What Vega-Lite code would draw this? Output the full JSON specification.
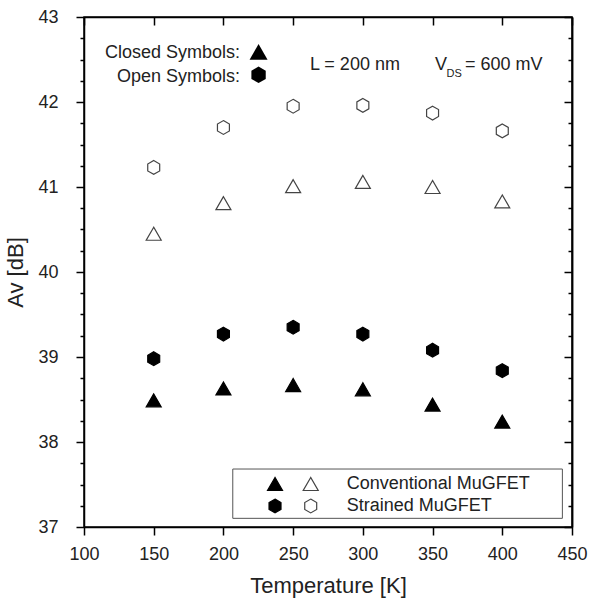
{
  "$schema": "https://vega.github.io/schema/vega-lite/v6.json",
  "width": 488,
  "height": 510,
  "autosize": {"type": "none"},
  "padding": {"left": 84, "top": 17, "right": 17, "bottom": 73},
  "config": {
    "view": {"stroke": "black", "strokeWidth": 1.5},
    "font": "Liberation Sans",
    "axis": {
      "grid": false,
      "labelFont": "Liberation Sans",
      "titleFont": "Liberation Sans",
      "labelColor": "#222",
      "titleColor": "#222",
      "titleFontWeight": "normal",
      "domainColor": "black",
      "domainWidth": 1.5,
      "tickColor": "black",
      "tickWidth": 1.5,
      "labelFontSize": 18,
      "titleFontSize": 22,
      "labelFlush": false,
      "labelOverlap": false
    }
  },
  "datasets": {
    "points": [
      {"series": "Conventional", "style": "closed", "T": 150, "Av": 38.49},
      {"series": "Conventional", "style": "closed", "T": 200, "Av": 38.63},
      {"series": "Conventional", "style": "closed", "T": 250, "Av": 38.67},
      {"series": "Conventional", "style": "closed", "T": 300, "Av": 38.62},
      {"series": "Conventional", "style": "closed", "T": 350, "Av": 38.44},
      {"series": "Conventional", "style": "closed", "T": 400, "Av": 38.24},
      {"series": "Strained", "style": "closed", "T": 150, "Av": 38.98},
      {"series": "Strained", "style": "closed", "T": 200, "Av": 39.27},
      {"series": "Strained", "style": "closed", "T": 250, "Av": 39.35},
      {"series": "Strained", "style": "closed", "T": 300, "Av": 39.27},
      {"series": "Strained", "style": "closed", "T": 350, "Av": 39.08},
      {"series": "Strained", "style": "closed", "T": 400, "Av": 38.84},
      {"series": "Conventional", "style": "open", "T": 150, "Av": 40.45},
      {"series": "Conventional", "style": "open", "T": 200, "Av": 40.81},
      {"series": "Conventional", "style": "open", "T": 250, "Av": 41.01},
      {"series": "Conventional", "style": "open", "T": 300, "Av": 41.06},
      {"series": "Conventional", "style": "open", "T": 350, "Av": 41.0},
      {"series": "Conventional", "style": "open", "T": 400, "Av": 40.83},
      {"series": "Strained", "style": "open", "T": 150, "Av": 41.23},
      {"series": "Strained", "style": "open", "T": 200, "Av": 41.7},
      {"series": "Strained", "style": "open", "T": 250, "Av": 41.95},
      {"series": "Strained", "style": "open", "T": 300, "Av": 41.96},
      {"series": "Strained", "style": "open", "T": 350, "Av": 41.87},
      {"series": "Strained", "style": "open", "T": 400, "Av": 41.66}
    ],
    "legendSymbols": [
      {"series": "Conventional", "style": "closed", "T": 237.0, "Av": 37.506},
      {"series": "Conventional", "style": "open", "T": 262.6, "Av": 37.506},
      {"series": "Strained", "style": "closed", "T": 237.0, "Av": 37.247},
      {"series": "Strained", "style": "open", "T": 262.6, "Av": 37.247}
    ],
    "legendBox": [
      {"T": 206.7, "T2": 443.1, "Av": 37.682, "Av2": 37.102}
    ],
    "rightTexts": [
      {"T": 211.9, "Av": 42.58, "label": "Closed Symbols:"},
      {"T": 211.9, "Av": 42.3, "label": "Open Symbols:"}
    ],
    "leftTexts": [
      {"T": 262.1, "Av": 42.435, "label": "L = 200 nm"},
      {"T": 351.8, "Av": 42.435, "label": "V"},
      {"T": 373.3, "Av": 42.435, "label": "= 600 mV"},
      {"T": 288.4, "Av": 37.506, "label": "Conventional MuGFET"},
      {"T": 288.4, "Av": 37.247, "label": "Strained MuGFET"}
    ],
    "subTexts": [
      {"T": 360.0, "Av": 42.33, "label": "DS"}
    ],
    "splitSymbol": [
      {"kind": "closed", "T": 225.2, "Av": 42.59},
      {"kind": "open", "T": 225.2, "Av": 42.32}
    ]
  },
  "layer": [
    {
      "data": {"name": "points"},
      "mark": {"type": "point", "filled": true, "size": 225, "strokeWidth": 1.2, "opacity": 1},
      "encoding": {
        "x": {
          "field": "T", "type": "quantitative",
          "scale": {"domain": [100, 450], "nice": false, "zero": false},
          "axis": {
            "orient": "bottom",
            "values": [100, 150, 200, 250, 300, 350, 400, 450],
            "ticks": false,
            "labelPadding": 18,
            "title": "Temperature [K]",
            "titlePadding": 12
          }
        },
        "y": {
          "field": "Av", "type": "quantitative",
          "scale": {"domain": [37, 43], "nice": false, "zero": false},
          "axis": {
            "orient": "left",
            "values": [37, 38, 39, 40, 41, 42, 43],
            "format": "d",
            "ticks": false,
            "labelPadding": 26,
            "title": "Av [dB]",
            "titlePadding": 10
          }
        },
        "shape": {
          "field": "series", "type": "nominal",
          "scale": {"domain": ["Conventional", "Strained"], "range": ["triangle-up", "M0,-0.92L0.797,-0.46L0.797,0.46L0,0.92L-0.797,0.46L-0.797,-0.46Z"]},
          "legend": null
        },
        "fill": {
          "field": "style", "type": "nominal",
          "scale": {"domain": ["closed", "open"], "range": ["black", "white"]},
          "legend": null
        },
        "stroke": {
          "field": "style", "type": "nominal",
          "scale": {"domain": ["closed", "open"], "range": ["black", "#444444"]},
          "legend": null
        }
      }
    },
    {
      "data": {"name": "legendBox"},
      "mark": {"type": "rect", "fill": null, "fillOpacity": 0, "stroke": "#555555", "strokeWidth": 1},
      "encoding": {
        "x": {
          "field": "T", "type": "quantitative",
          "scale": {"domain": [100, 450], "nice": false, "zero": false},
          "axis": {
            "orient": "top",
            "values": [100, 150, 200, 250, 300, 350, 400, 450],
            "tickSize": -8,
            "labels": false,
            "title": null
          }
        },
        "x2": {"field": "T2"},
        "y": {
          "field": "Av", "type": "quantitative",
          "scale": {"domain": [37, 43], "nice": false, "zero": false},
          "axis": {
            "orient": "right",
            "values": [37, 38, 39, 40, 41, 42, 43],
            "tickSize": -8,
            "labels": false,
            "title": null
          }
        },
        "y2": {"field": "Av2"}
      }
    },
    {
      "data": {"name": "legendSymbols"},
      "mark": {"type": "point", "filled": true, "size": 225, "strokeWidth": 1.2, "opacity": 1},
      "encoding": {
        "x": {
          "field": "T", "type": "quantitative",
          "scale": {"domain": [100, 450], "nice": false, "zero": false},
          "axis": {
            "orient": "bottom",
            "values": [100, 150, 200, 250, 300, 350, 400, 450],
            "tickSize": -8,
            "offset": 8,
            "domain": false,
            "labels": false,
            "title": null
          }
        },
        "y": {
          "field": "Av", "type": "quantitative",
          "scale": {"domain": [37, 43], "nice": false, "zero": false},
          "axis": {
            "orient": "left",
            "values": [37, 38, 39, 40, 41, 42, 43],
            "tickSize": -8,
            "offset": 8,
            "domain": false,
            "labels": false,
            "title": null
          }
        },
        "shape": {
          "field": "series", "type": "nominal",
          "scale": {"domain": ["Conventional", "Strained"], "range": ["triangle-up", "M0,-0.92L0.797,-0.46L0.797,0.46L0,0.92L-0.797,0.46L-0.797,-0.46Z"]},
          "legend": null
        },
        "fill": {
          "field": "style", "type": "nominal",
          "scale": {"domain": ["closed", "open"], "range": ["black", "white"]},
          "legend": null
        },
        "stroke": {
          "field": "style", "type": "nominal",
          "scale": {"domain": ["closed", "open"], "range": ["black", "#444444"]},
          "legend": null
        }
      }
    },
    {
      "data": {"name": "splitSymbol"},
      "mark": {"type": "point", "filled": true, "size": 324, "color": "black", "opacity": 1},
      "encoding": {
        "x": {"field": "T", "type": "quantitative", "scale": {"domain": [100, 450], "nice": false, "zero": false}, "axis": null},
        "y": {
          "field": "Av", "type": "quantitative",
          "scale": {"domain": [37, 43], "nice": false, "zero": false},
          "axis": {
            "orient": "right",
            "values": [37.25, 37.5, 37.75, 38.25, 38.5, 38.75, 39.25, 39.5, 39.75, 40.25, 40.5, 40.75, 41.25, 41.5, 41.75, 42.25, 42.5, 42.75],
            "tickSize": -4,
            "labels": false,
            "title": null
          }
        },
        "shape": {
          "field": "kind", "type": "nominal",
          "scale": {"domain": ["closed", "open"], "range": ["M-0.28,-0.74L0.28,-0.74L1,0.1L1,0.74L-1,0.74L-1,0.1Z", "M-1,-0.74L1,-0.74L1,-0.1L0.28,0.74L-0.28,0.74L-1,-0.1Z"]},
          "legend": null
        }
      }
    },
    {
      "data": {"name": "rightTexts"},
      "mark": {"type": "text", "align": "right", "baseline": "middle", "fontSize": 18, "font": "Liberation Sans", "color": "#222"},
      "encoding": {
        "x": {"field": "T", "type": "quantitative", "scale": {"domain": [100, 450], "nice": false, "zero": false}, "axis": null},
        "y": {
          "field": "Av", "type": "quantitative",
          "scale": {"domain": [37, 43], "nice": false, "zero": false},
          "axis": {
            "orient": "left",
            "values": [37.25, 37.5, 37.75, 38.25, 38.5, 38.75, 39.25, 39.5, 39.75, 40.25, 40.5, 40.75, 41.25, 41.5, 41.75, 42.25, 42.5, 42.75],
            "tickSize": -4,
            "offset": 4,
            "domain": false,
            "labels": false,
            "title": null
          }
        },
        "text": {"field": "label"}
      }
    },
    {
      "data": {"name": "leftTexts"},
      "mark": {"type": "text", "align": "left", "baseline": "middle", "fontSize": 18, "font": "Liberation Sans", "color": "#222"},
      "encoding": {
        "x": {"field": "T", "type": "quantitative", "scale": {"domain": [100, 450], "nice": false, "zero": false}, "axis": null},
        "y": {"field": "Av", "type": "quantitative", "scale": {"domain": [37, 43], "nice": false, "zero": false}, "axis": null},
        "text": {"field": "label"}
      }
    },
    {
      "data": {"name": "subTexts"},
      "mark": {"type": "text", "align": "left", "baseline": "middle", "fontSize": 11, "font": "Liberation Sans", "color": "#222"},
      "encoding": {
        "x": {"field": "T", "type": "quantitative", "scale": {"domain": [100, 450], "nice": false, "zero": false}, "axis": null},
        "y": {"field": "Av", "type": "quantitative", "scale": {"domain": [37, 43], "nice": false, "zero": false}, "axis": null},
        "text": {"field": "label"}
      }
    }
  ],
  "resolve": {"axis": {"x": "independent", "y": "independent"}}
}
